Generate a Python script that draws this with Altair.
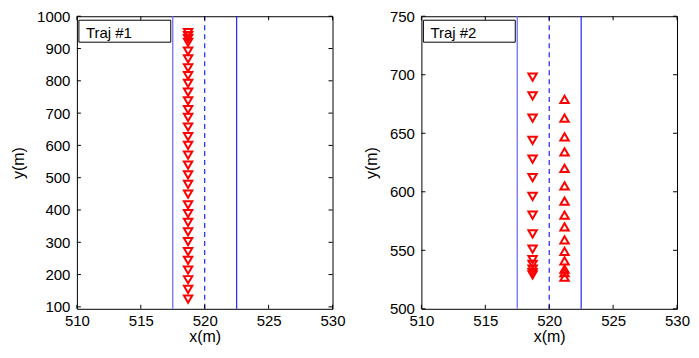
import altair as alt
import pandas as pd

# ---- data ----
x_ticks = [510, 515, 520, 525, 530]
y1_ticks = [100, 200, 300, 400, 500, 600, 700, 800, 900, 1000]
y2_ticks = [500, 550, 600, 650, 700, 750]

lane_left = [517.5]
lane_right = [522.5]
lane_center = [520.0]

traj1_x = 518.7
traj1_y = [949, 940, 931, 919, 892, 868, 840, 816, 792, 765, 738, 711, 687,
           657, 627, 600, 570, 539, 509, 479, 449, 416, 389, 362, 332, 302,
           271, 244, 214, 184, 154, 124]

traj2_down_x = 518.7
traj2_down_y = [698, 682, 663, 644, 628, 612, 596, 580, 564, 551, 542, 538,
                534, 531, 529]
traj2_up_x = 521.2
traj2_up_y = [679, 663, 647, 634, 620, 605, 592, 580, 570, 559, 549, 541,
              534, 531, 527]

W, H = 256, 293
FONT = "Liberation Sans"
RED = "#ff0000"
BLUE = "#1010ff"
LIGHT_BLUE = "#6f6fff"


def panel(label, y_domain, y_ticks, series):
    xs = alt.Scale(domain=[510, 530], nice=False, zero=False)
    ys = alt.Scale(domain=y_domain, nice=False, zero=False)
    x_axis = alt.Axis(values=x_ticks, title="x(m)", labelPadding=5,
                      titlePadding=0, format="d", labelFlush=False,
                      labelOverlap=False)
    y_axis = alt.Axis(values=y_ticks, title="y(m)", labelPadding=7,
                      titlePadding=10, format="d", labelFlush=False,
                      labelOverlap=False)

    def X(f="x"):
        return alt.X(f"{f}:Q", scale=xs, axis=x_axis)

    def Y(f="y"):
        return alt.Y(f"{f}:Q", scale=ys, axis=y_axis)

    xt = pd.DataFrame({"x": x_ticks})
    yt = pd.DataFrame({"y": y_ticks})

    layers = []
    layers.append(
        alt.Chart(pd.DataFrame({"x": lane_left})).mark_rule(
            strokeWidth=1.3, stroke=LIGHT_BLUE).encode(
            x=X(), y=alt.value(0), y2=alt.value(H))
    )
    layers.append(
        alt.Chart(pd.DataFrame({"x": lane_right})).mark_rule(
            strokeWidth=1.1, stroke=BLUE).encode(
            x=X(), y=alt.value(0), y2=alt.value(H))
    )
    layers.append(
        alt.Chart(pd.DataFrame({"x": lane_center})).mark_rule(
            strokeWidth=1.1, strokeDash=[5, 4], stroke=BLUE).encode(
            x=X(), y=alt.value(0), y2=alt.value(H))
    )
    for df, shape in series:
        layers.append(
            alt.Chart(df).mark_point(shape=shape, filled=False, stroke=RED,
                                     strokeWidth=2, size=70, opacity=1).encode(
                x=X(), y=Y())
        )
    # inward ticks on all four sides
    for y0, y1 in [(H, H - 4), (0, 4)]:
        layers.append(
            alt.Chart(xt).mark_rule(strokeWidth=1, stroke="black").encode(
                x=X(), y=alt.value(y0), y2=alt.value(y1))
        )
    for x0, x1 in [(0, 4), (W, W - 4)]:
        layers.append(
            alt.Chart(yt).mark_rule(strokeWidth=1, stroke="black").encode(
                y=Y(), x=alt.value(x0), x2=alt.value(x1))
        )
    lab = pd.DataFrame({"label": [label]})
    layers.append(
        alt.Chart(lab).mark_rect(fill="white", stroke="black",
                                 strokeWidth=1).encode(
            x=alt.value(2), x2=alt.value(94), y=alt.value(4), y2=alt.value(26))
    )
    layers.append(
        alt.Chart(lab).mark_text(font=FONT, fontSize=15, align="left",
                                 baseline="alphabetic", color="black").encode(
            x=alt.value(9), y=alt.value(22), text="label:N")
    )
    return alt.layer(*layers).properties(width=W, height=H)


left = panel(
    "Traj #1", [94, 1000], y1_ticks,
    [(pd.DataFrame({"x": [traj1_x] * len(traj1_y), "y": traj1_y}),
      "triangle-down")],
)
right = panel(
    "Traj #2", [500, 750], y2_ticks,
    [(pd.DataFrame({"x": [traj2_down_x] * len(traj2_down_y), "y": traj2_down_y}),
      "triangle-down"),
     (pd.DataFrame({"x": [traj2_up_x] * len(traj2_up_y), "y": traj2_up_y}),
      "triangle-up")],
)

chart = alt.hconcat(left, right, spacing=16).properties(
    padding={"left": 2, "top": 0, "right": 0, "bottom": 0},
    background="white",
).configure_view(stroke="black", strokeWidth=1).configure_axis(
    labelFont=FONT, titleFont=FONT, labelFontSize=15, titleFontSize=16,
    titleFontWeight="normal", labelColor="black", titleColor="black",
    domain=False, ticks=False, grid=False,
)

chart.save("out.html", embed_options={"renderer": "svg", "actions": False})
